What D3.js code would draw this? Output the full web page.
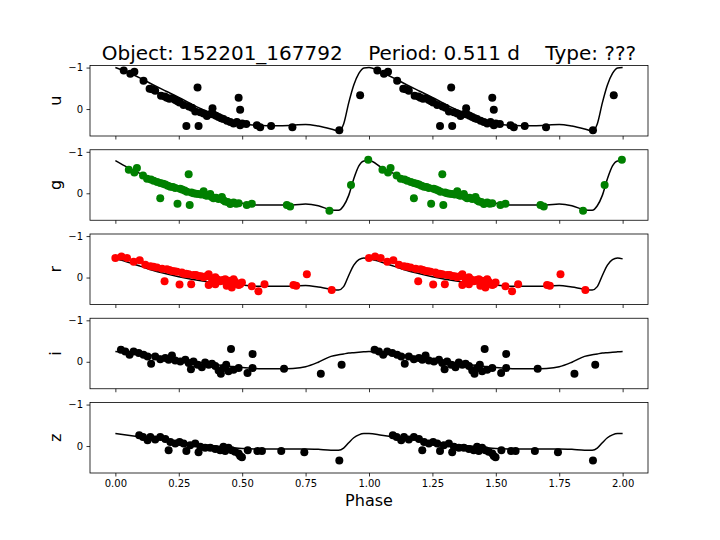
<!DOCTYPE html>
<html>
<head>
<meta charset="utf-8">
<script src="https://cdn.jsdelivr.net/npm/d3@7"></script>
<style>
    body { margin: 0; background: #fff; }
    text { font-family: "DejaVu Sans", sans-serif; }
</style>
</head>
<body>
<div id="chart-container"></div>
<script>
// observed points, phase in [0, 1), magnitude offset (inverted axis)
var uPhase = [0.033, 0.059, 0.075, 0.111, 0.135, 0.145, 0.157, 0.18, 0.195, 0.203, 0.213, 0.223, 0.236, 0.245, 0.253, 0.269, 0.28, 0.29, 0.302, 0.315, 0.324, 0.328, 0.335, 0.348, 0.361, 0.375, 0.383, 0.387, 0.397, 0.407, 0.417, 0.426, 0.44, 0.453, 0.466, 0.479, 0.486, 0.492, 0.492, 0.5, 0.516, 0.558, 0.571, 0.614, 0.698, 0.883, 0.965];
var uMag = [-0.93, -0.85, -0.90, -0.68, -0.49, -0.48, -0.44, -0.32, -0.30, -0.27, -0.25, -0.26, -0.22, -0.19, -0.16, -0.10, 0.41, -0.06, -0.03, 0.06, -0.52, 0.41, 0.08, 0.11, 0.17, 0.12, -0.02, 0.13, 0.16, 0.19, 0.22, 0.24, 0.28, 0.31, 0.35, 0.31, -0.27, 0.02, 0.39, 0.35, 0.36, 0.39, 0.44, 0.41, 0.44, 0.51, -0.33];

var gPhase = [0.053, 0.075, 0.085, 0.109, 0.125, 0.14, 0.151, 0.165, 0.177, 0.177, 0.188, 0.197, 0.207, 0.217, 0.227, 0.236, 0.245, 0.255, 0.263, 0.273, 0.282, 0.289, 0.293, 0.3, 0.308, 0.318, 0.328, 0.338, 0.348, 0.355, 0.361, 0.374, 0.38, 0.387, 0.397, 0.407, 0.42, 0.426, 0.433, 0.443, 0.453, 0.466, 0.476, 0.486, 0.518, 0.538, 0.676, 0.689, 0.844, 0.929, 0.997];
var gMag = [-0.57, -0.50, -0.61, -0.43, -0.35, -0.33, -0.30, -0.27, -0.25, 0.12, -0.23, -0.21, -0.18, -0.16, -0.15, -0.13, 0.25, -0.11, -0.09, -0.07, -0.04, -0.46, 0.28, -0.02, 0.0, 0.01, 0.02, 0.03, -0.05, 0.05, 0.06, 0.02, 0.09, 0.12, 0.11, 0.14, 0.09, 0.17, 0.20, 0.21, 0.26, 0.22, 0.25, 0.24, 0.28, 0.25, 0.28, 0.32, 0.42, -0.20, -0.81];

var rPhase = [0.0, 0.024, 0.046, 0.072, 0.096, 0.118, 0.138, 0.15, 0.164, 0.184, 0.194, 0.203, 0.213, 0.223, 0.233, 0.243, 0.253, 0.262, 0.269, 0.279, 0.289, 0.299, 0.308, 0.318, 0.328, 0.338, 0.348, 0.358, 0.368, 0.368, 0.381, 0.394, 0.394, 0.403, 0.413, 0.423, 0.433, 0.439, 0.446, 0.453, 0.459, 0.466, 0.472, 0.479, 0.486, 0.492, 0.499, 0.538, 0.564, 0.588, 0.702, 0.713, 0.755, 0.853];
var rMag = [-0.47, -0.51, -0.47, -0.38, -0.42, -0.31, -0.27, -0.26, -0.24, -0.21, 0.09, -0.20, -0.18, -0.16, -0.15, -0.14, 0.17, -0.12, -0.09, -0.09, -0.08, 0.16, -0.06, -0.06, -0.04, -0.03, -0.01, -0.03, -0.08, 0.18, 0.04, -0.01, 0.16, 0.05, 0.09, 0.06, 0.04, 0.20, 0.08, 0.12, 0.24, 0.04, 0.10, 0.15, 0.18, 0.16, 0.12, 0.21, 0.33, 0.16, 0.18, 0.20, -0.08, 0.30];

var iPhase = [0.022, 0.039, 0.056, 0.072, 0.092, 0.111, 0.127, 0.141, 0.157, 0.177, 0.197, 0.21, 0.223, 0.236, 0.256, 0.276, 0.289, 0.298, 0.308, 0.324, 0.341, 0.354, 0.368, 0.381, 0.394, 0.407, 0.416, 0.426, 0.437, 0.446, 0.456, 0.466, 0.486, 0.521, 0.541, 0.541, 0.665, 0.81, 0.892];
var iMag = [-0.29, -0.25, -0.17, -0.25, -0.21, -0.17, -0.13, 0.05, -0.13, -0.06, -0.09, -0.05, -0.15, -0.03, -0.01, -0.05, 0.03, 0.18, -0.01, 0.07, 0.13, 0.02, 0.07, 0.05, 0.10, 0.21, 0.29, 0.15, 0.07, 0.23, -0.31, 0.19, 0.15, 0.27, -0.19, 0.15, 0.17, 0.29, 0.07];

var zPhase = [0.094, 0.109, 0.127, 0.138, 0.157, 0.177, 0.197, 0.21, 0.217, 0.236, 0.253, 0.269, 0.28, 0.295, 0.315, 0.328, 0.335, 0.354, 0.374, 0.394, 0.413, 0.426, 0.433, 0.446, 0.459, 0.472, 0.486, 0.492, 0.499, 0.522, 0.56, 0.578, 0.654, 0.745, 0.883];
var zMag = [-0.26, -0.22, -0.14, -0.22, -0.16, -0.22, -0.17, 0.10, -0.10, -0.06, -0.10, -0.06, 0.12, -0.02, -0.06, 0.15, 0.02, 0.04, 0.04, 0.07, 0.10, 0.02, 0.12, 0.04, 0.10, 0.14, 0.18, 0.24, 0.27, 0.10, 0.12, 0.12, 0.12, 0.15, 0.35];

// fitted model, one cycle
var modelPhase = [0, 0.05, 0.1, 0.15, 0.2, 0.25, 0.3, 0.35, 0.4, 0.45, 0.5, 0.55, 0.6, 0.65, 0.7, 0.75, 0.8, 0.85, 0.88, 0.9, 0.92, 0.94, 0.96, 0.98];
var uModel = [-1.00, -0.88, -0.74, -0.58, -0.43, -0.28, -0.12, 0.03, 0.15, 0.26, 0.34, 0.39, 0.40, 0.40, 0.39, 0.37, 0.41, 0.48, 0.53, 0.36, -0.15, -0.58, -0.86, -0.99];
var gModel = [-0.79, -0.62, -0.47, -0.33, -0.22, -0.13, -0.05, 0.04, 0.12, 0.19, 0.24, 0.28, 0.28, 0.28, 0.28, 0.26, 0.30, 0.40, 0.41, 0.30, 0.05, -0.35, -0.66, -0.78];
var rModel = [-0.45, -0.37, -0.27, -0.17, -0.09, -0.02, 0.04, 0.09, 0.13, 0.16, 0.18, 0.21, 0.21, 0.21, 0.21, 0.19, 0.23, 0.28, 0.30, 0.22, -0.05, -0.30, -0.43, -0.47];
var iModel = [-0.25, -0.22, -0.19, -0.15, -0.11, -0.06, -0.02, 0.03, 0.07, 0.11, 0.14, 0.16, 0.17, 0.17, 0.16, 0.12, 0.01, -0.13, -0.17, -0.19, -0.21, -0.22, -0.23, -0.24];
var zModel = [-0.30, -0.26, -0.22, -0.18, -0.14, -0.10, -0.06, -0.03, 0.00, 0.03, 0.06, 0.07, 0.07, 0.07, 0.07, 0.07, 0.08, 0.10, 0.10, 0.05, -0.08, -0.20, -0.27, -0.30];

var bands = ['u', 'g', 'r', 'i', 'z'];
var bandColors = ['black', 'green', 'red', 'black', 'black'];
var xTicks = [0, 0.25, 0.5, 0.75, 1, 1.25, 1.5, 1.75, 2];
var yTicks = [-1, 0];
var title = 'Object: 152201_167792    Period: 0.511 d    Type: ???';

(function () {
    'use strict';

    var width = 720;
    var height = 540;
    var left = 90, right = 648;
    var top0 = 65.5, step = 84.25, panelH = 70.5;

    var obs = [[uPhase, uMag], [gPhase, gMag], [rPhase, rMag], [iPhase, iMag], [zPhase, zMag]];
    var models = [uModel, gModel, rModel, iModel, zModel];

    var svg = d3.select('#chart-container')
        .append('svg')
        .attr('width', width)
        .attr('height', height);

    var x = d3.scaleLinear().domain([-0.1, 2.1]).range([left, right]);

    svg.append('text')
        .attr('x', (left + right) / 2)
        .attr('y', 60)
        .attr('text-anchor', 'middle')
        .style('font-size', '20px')
        .style('white-space', 'pre')
        .text(title);

    bands.forEach(function (band, i) {
        var top = top0 + i * step;
        var y = d3.scaleLinear().domain([-1.05, 0.65]).range([top, top + panelH]);
        var g = svg.append('g').attr('class', 'panel-' + band);

        g.append('clipPath').attr('id', 'clip-' + band)
            .append('rect')
            .attr('x', left).attr('y', top)
            .attr('width', right - left).attr('height', panelH);

        // two cycles of the points and the model
        var pts = [];
        obs[i][0].forEach(function (p, k) {
            pts.push([p, obs[i][1][k]]);
            pts.push([p + 1, obs[i][1][k]]);
        });
        var curve = [];
        [0, 1].forEach(function (c) {
            modelPhase.forEach(function (p, k) { curve.push([p + c, models[i][k]]); });
        });
        curve.push([2, models[i][0]]);

        var plot = g.append('g').attr('clip-path', 'url(#clip-' + band + ')');

        plot.append('path')
            .datum(curve)
            .attr('d', d3.line()
                .x(function (d) { return x(d[0]); })
                .y(function (d) { return y(d[1]); })
                .curve(d3.curveMonotoneX))
            .style('fill', 'none')
            .style('stroke', '#000')
            .style('stroke-width', 1.5);

        plot.selectAll('circle')
            .data(pts)
            .enter()
            .append('circle')
            .attr('cx', function (d) { return x(d[0]); })
            .attr('cy', function (d) { return y(d[1]); })
            .attr('r', 4)
            .style('fill', bandColors[i]);

        var yAxis = d3.axisLeft(y)
            .tickValues(yTicks)
            .tickFormat(function (d) { return d < 0 ? '\u2212' + Math.abs(d) : d; })
            .tickSizeInner(3.5).tickSizeOuter(0).tickPadding(3.5);
        g.append('g').attr('transform', 'translate(' + left + ',0)').call(yAxis);

        var xAxis = d3.axisBottom(x)
            .tickValues(xTicks)
            .tickFormat(i === bands.length - 1 ? d3.format('.2f') : '')
            .tickSizeInner(3.5).tickSizeOuter(0).tickPadding(3.5);
        g.append('g').attr('transform', 'translate(0,' + (top + panelH) + ')').call(xAxis);

        g.selectAll('.domain').remove();
        g.selectAll('.tick text').style('font-size', '10px').style('font-family', '"DejaVu Sans", sans-serif').attr('fill', '#000');
        g.selectAll('.tick line').attr('stroke', '#000').attr('stroke-width', 0.8);

        g.append('rect')
            .attr('x', left).attr('y', top)
            .attr('width', right - left).attr('height', panelH)
            .style('fill', 'none')
            .style('stroke', '#000')
            .style('stroke-width', 0.8);

        g.append('text')
            .attr('transform', 'translate(61,' + (top + panelH / 2) + ') rotate(-90)')
            .attr('text-anchor', 'middle')
            .style('font-size', '16px')
            .text(band);
    });

    svg.append('text')
        .attr('x', (left + right) / 2)
        .attr('y', 506)
        .attr('text-anchor', 'middle')
        .style('font-size', '16px')
        .text('Phase');
}());
</script>
</body>
</html>
